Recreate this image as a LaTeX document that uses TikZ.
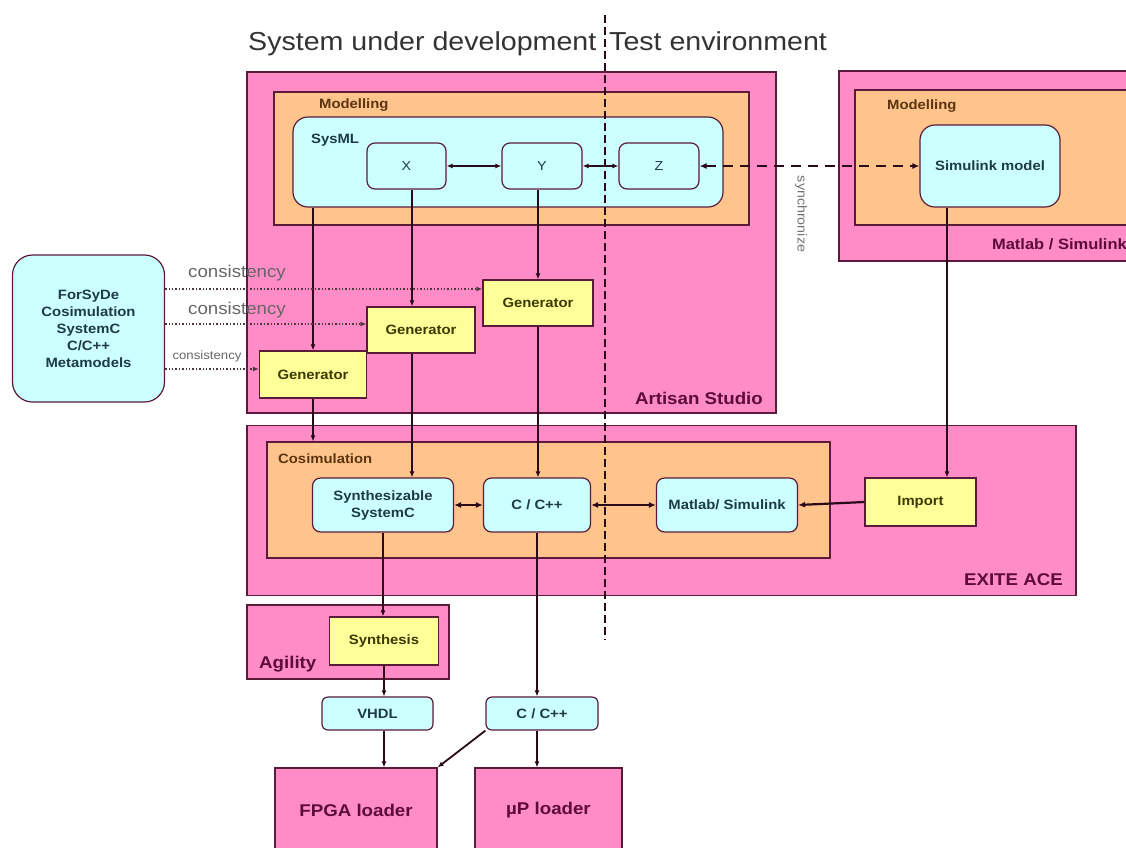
\documentclass[tikz,border=0pt]{standalone}
\usepackage{fontspec}
\setmainfont[FakeStretch=1.1]{Liberation Sans}
\usetikzlibrary{arrows.meta}
\definecolor{pinkc}{HTML}{FF8CC6}
\definecolor{orangec}{HTML}{FFC48C}
\definecolor{cyanc}{HTML}{CCFFFF}
\definecolor{yellowc}{HTML}{FFFF99}
\definecolor{edgec}{HTML}{5A1A3A}
\definecolor{linec}{HTML}{2A0A1A}
\definecolor{pinktxt}{HTML}{5C0B3A}
\definecolor{orangetxt}{HTML}{5A3510}
\definecolor{cyantxt}{HTML}{1E3A48}
\definecolor{yellowtxt}{HTML}{3A3A00}
\definecolor{dotc}{HTML}{4A3A40}
\newcommand\boxfont{\fontsize{13.5}{17}\selectfont\bfseries}
\newcommand\bigfont{\fontsize{17}{20}\selectfont\bfseries}
\tikzset{
  basebox/.style={draw=edgec, line width=1.2pt, inner sep=0pt, anchor=center},
  pinkbox/.style={basebox, fill=pinkc},
  orangebox/.style={basebox, fill=orangec},
  cyanbox/.style={basebox, fill=cyanc, rounded corners=8pt, text=cyantxt, font=\boxfont, align=center},
  yellowbox/.style={basebox, fill=yellowc, text=yellowtxt, font=\boxfont},
  pinklabel/.style={text=pinktxt, font=\bigfont, inner sep=0pt},
  orangelabel/.style={text=orangetxt, font=\boxfont, inner sep=0pt},
  tip/.style={-{Latex[length=6pt,width=5pt]}},
  conn/.style={draw=linec, line width=1.8pt, tip},
  biconn/.style={draw=linec, line width=1.6pt, {Latex[length=6pt,width=5pt]}-{Latex[length=6pt,width=5pt]}},
  thickbi/.style={draw=linec, line width=2.2pt, {Latex[length=7pt,width=6pt]}-{Latex[length=7pt,width=6pt]}},
  dotconn/.style={draw=dotc, line width=1.4pt, dotted, tip},
  consist/.style={text=black!60, inner sep=0pt},
}
\begin{document}
\begin{tikzpicture}[x=1pt,y=-1pt]
\useasboundingbox (0,0) rectangle (1126,847);
\clip (0,0) rectangle (1126,847);
\fill[white] (0,0) rectangle (1126,847);

% titles
\node[anchor=base west, font=\fontsize{26}{30}\selectfont, text=black!80, inner sep=0pt] (t1) at (248,50) {System under development};
\node[anchor=base west, font=\fontsize{26}{30}\selectfont, text=black!80, inner sep=0pt] (t2) at (609,50) {Test environment};

% Artisan Studio
\node[pinkbox, minimum width=529pt, minimum height=341pt] (artisan) at (511.5,242.5) {};
\node[orangebox, minimum width=475pt, minimum height=133pt] (mod1) at (511.5,158.5) {};
\node[cyanbox, rounded corners=15pt, minimum width=430pt, minimum height=90pt] (sysml) at (508,162) {};
\node[orangelabel, anchor=west] (mod1lbl) at (319,105) {Modelling};
\node[anchor=west, text=cyantxt, font=\boxfont, inner sep=0pt] (sysmllbl) at (311,140) {SysML};
\node[cyanbox, font=\fontsize{13}{15}\selectfont, minimum width=79pt, minimum height=46pt] (X) at (406.5,166) {X};
\node[cyanbox, font=\fontsize{13}{15}\selectfont, minimum width=80pt, minimum height=46pt] (Y) at (542,166) {Y};
\node[cyanbox, font=\fontsize{13}{15}\selectfont, minimum width=80pt, minimum height=46pt] (Z) at (659,166) {Z};
\node[pinklabel, anchor=base east] (artlbl) at (763,404) {Artisan Studio};

% Matlab / Simulink
\node[pinkbox, minimum width=302pt, minimum height=190pt] (matlab) at (990,166) {};
\node[orangebox, minimum width=290pt, minimum height=135pt] (mod2) at (1000,157.5) {};
\node[orangelabel, anchor=west] (mod2lbl) at (887,106) {Modelling};
\node[cyanbox, rounded corners=15pt, minimum width=140pt, minimum height=82pt] (simmodel) at (990,166) {Simulink model};
\node[pinklabel, anchor=base east, font=\fontsize{15}{18}\selectfont\bfseries] (matlbl) at (1127,249) {Matlab / Simulink};

% synchronize
\node[rotate=-90, text=black!55, font=\fontsize{13}{15}\selectfont, inner sep=0pt] (sync) at (801,214) {synchronize};

% ForSyDe
\node[cyanbox, rounded corners=20pt, minimum width=152pt, minimum height=147pt, font=\fontsize{13.5}{17}\selectfont\bfseries] (forsyde) at (88.5,328.5) {ForSyDe\\Cosimulation\\SystemC\\C/C++\\Metamodels};

% generators
\node[yellowbox, minimum width=107pt, minimum height=47pt] (gen1) at (313,374.5) {Generator};
\node[yellowbox, minimum width=108pt, minimum height=46pt] (gen2) at (421,330) {Generator};
\node[yellowbox, minimum width=110pt, minimum height=46pt] (gen3) at (538,303) {Generator};

\node[consist, font=\fontsize{17}{20}\selectfont] (c1) at (237,273) {consistency};
\node[consist, font=\fontsize{17}{20}\selectfont] (c2) at (237,310) {consistency};
\node[consist, font=\fontsize{12}{14}\selectfont] (c3) at (207,356) {consistency};

% EXITE ACE
\node[pinkbox, minimum width=829pt, minimum height=170pt] (exite) at (661.5,510.5) {};
\node[orangebox, minimum width=563pt, minimum height=116pt] (cosim) at (548.5,500) {};
\node[orangelabel, anchor=west] (cosimlbl) at (278,459) {Cosimulation};
\node[cyanbox, minimum width=141pt, minimum height=54pt] (syn) at (383,505) {Synthesizable\\SystemC};
\node[cyanbox, minimum width=107pt, minimum height=54pt] (cc) at (537,505) {C / C++};
\node[cyanbox, minimum width=141pt, minimum height=54pt] (ms) at (727,505) {Matlab/ Simulink};
\node[yellowbox, minimum width=111pt, minimum height=48pt] (import) at (920.5,502) {Import};
\node[pinklabel, anchor=base east] (exlbl) at (1063,585) {EXITE ACE};

% Agility
\node[pinkbox, minimum width=202pt, minimum height=74pt] (agility) at (348,642) {};
\node[yellowbox, minimum width=109pt, minimum height=48pt] (synth) at (384,641) {Synthesis};
\node[pinklabel, anchor=base west] (aglbl) at (259,668) {Agility};

% outputs
\node[cyanbox, rounded corners=6pt, minimum width=111pt, minimum height=33pt] (vhdl) at (377.5,713.5) {VHDL};
\node[cyanbox, rounded corners=6pt, minimum width=112pt, minimum height=33pt] (cc2) at (542,713.5) {C / C++};
\node[pinkbox, minimum width=162pt, minimum height=84pt, text=pinktxt, font=\bigfont] (fpga) at (356,810) {FPGA loader};
\node[pinkbox, minimum width=147pt, minimum height=84pt, text=pinktxt, font=\bigfont] (up) at (548.5,810) {µP loader};

% connectors inside SysML
\draw[biconn] (X.east) -- (Y.west);
\draw[biconn] (Y.east) -- (Z.west);
\draw[thickbi, dash pattern=on 10pt off 7pt] (Z.east) -- (simmodel.west);

% verticals
\draw[conn] (gen1.north |- sysml.south) -- (gen1.north);
\draw[conn] (gen1.south) -- (gen1.south |- cosim.north);
\draw[conn] ([xshift=5.5pt]X.south) -- ([xshift=5.5pt]X.south |- gen2.north);
\draw[conn] ([xshift=5.5pt]X.south |- gen2.south) -- ([xshift=5.5pt]X.south |- syn.north);
\draw[conn] (gen3.north |- Y.south) -- (gen3.north);
\draw[conn] (gen3.south) -- (gen3.south |- cc.north);
\draw[conn] ([xshift=-43pt]simmodel.south) -- ([xshift=-43pt]simmodel.south |- import.north);

% cosim links
\draw[thickbi] (syn.east) -- (cc.west);
\draw[thickbi] (cc.east) -- (ms.west);
\draw[draw=linec, line width=2.2pt, -{Latex[length=7pt,width=6pt]}] (import.west) -- (ms.east);

% lower chain
\draw[conn] (syn.south) -- (syn.south |- synth.north);
\draw[conn] (synth.south) -- (synth.south |- vhdl.north);
\draw[conn] (synth.south |- vhdl.south) -- (synth.south |- fpga.north);
\draw[conn] (cc.south) -- (cc.south |- cc2.north);
\draw[conn] (cc.south |- cc2.south) -- (cc.south |- up.north);
\draw[conn] (cc2.south west) -- (fpga.north east);

% consistency arrows
\draw[dotconn] ([yshift=39.5pt]forsyde.east) -- ([yshift=39.5pt]forsyde.east -| gen3.west);
\draw[dotconn] ([yshift=4.5pt]forsyde.east) -- ([yshift=4.5pt]forsyde.east -| gen2.west);
\draw[dotconn] ([yshift=-40.5pt]forsyde.east) -- ([yshift=-40.5pt]forsyde.east -| gen1.west);

% divider
\coordinate (dtop) at (605,15);
\coordinate (dbot) at (605,640);
\draw[draw=linec, line width=1.4pt, dash pattern=on 8pt off 4pt] (dtop) -- (dbot);
\end{tikzpicture}
\end{document}
